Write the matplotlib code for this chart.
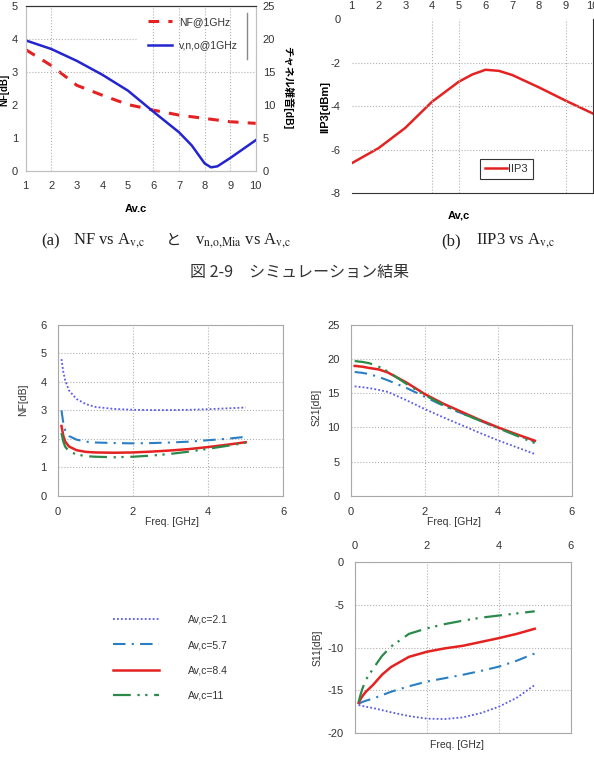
import matplotlib
matplotlib.use('Agg')
import matplotlib.pyplot as plt

plt.rcParams['font.family'] = ['Liberation Sans', 'Noto Sans CJK JP', 'DejaVu Sans']
plt.rcParams['mathtext.fontset'] = 'stix'
plt.rcParams['axes.unicode_minus'] = False

# (a) NF and channel noise vs Av,c
av = [1, 2, 3, 4, 5, 6, 7, 8, 9, 10]
nf_av = [3.68, 3.2, 2.6, 2.3, 2.02, 1.85, 1.7, 1.6, 1.5, 1.45]
av_v = [1, 2, 3, 4, 5, 6, 7, 7.5, 8, 8.25, 8.5, 9, 10]
vno_av = [19.8, 18.5, 16.7, 14.6, 12.2, 9.0, 5.9, 3.9, 1.2, 0.6, 0.75, 2.0, 4.7]

# (b) IIP3 vs Av,c
av_i = [1, 2, 3, 4, 5, 5.5, 6, 6.5, 7, 8, 9, 10]
iip3 = [-6.62, -5.93, -5.0, -3.8, -2.88, -2.55, -2.33, -2.38, -2.57, -3.14, -3.75, -4.33]

# frequency sweeps for Av,c = 2.1 / 5.7 / 8.4 / 11
freq = [0.1, 0.15, 0.2, 0.3, 0.5, 0.75, 1, 1.5, 2, 2.5, 3, 3.5, 4, 4.5, 5]
labels = ['Av,c=2.1', 'Av,c=5.7', 'Av,c=8.4', 'Av,c=11']
nf = [
    [4.8, 4.35, 4.05, 3.7, 3.4, 3.22, 3.12, 3.05, 3.02, 3.01, 3.01, 3.02, 3.04, 3.07, 3.1],
    [3.0, 2.55, 2.3, 2.1, 1.97, 1.9, 1.87, 1.85, 1.84, 1.85, 1.87, 1.9, 1.95, 2.0, 2.07],
    [2.45, 2.1, 1.9, 1.73, 1.6, 1.54, 1.52, 1.51, 1.52, 1.55, 1.59, 1.64, 1.71, 1.79, 1.88],
    [2.2, 1.9, 1.72, 1.56, 1.45, 1.39, 1.37, 1.35, 1.37, 1.41, 1.47, 1.55, 1.65, 1.75, 1.86],
]
s21 = [
    [16.0, 16.0, 15.95, 15.9, 15.75, 15.5, 15.2, 14.0, 12.7, 11.5, 10.35, 9.2, 8.1, 7.1, 6.1],
    [18.1, 18.1, 18.05, 18.0, 17.8, 17.4, 16.9, 15.8, 14.5, 13.2, 12.1, 11.0, 9.9, 8.9, 7.9],
    [19.0, 19.0, 18.95, 18.9, 18.7, 18.5, 18.05, 16.6, 14.9, 13.5, 12.3, 11.1, 10.0, 9.0, 8.05],
    [19.7, 19.7, 19.65, 19.6, 19.4, 18.9, 18.2, 16.4, 14.75, 13.3, 12.1, 11.0, 9.9, 8.8, 7.7],
]
s11 = [
    [-16.75, -16.8, -16.85, -16.95, -17.1, -17.35, -17.6, -18.05, -18.35, -18.4, -18.2, -17.7, -16.95, -15.9, -14.4],
    [-16.6, -16.5, -16.4, -16.25, -16.0, -15.6, -15.2, -14.55, -14.0, -13.6, -13.2, -12.75, -12.25, -11.55, -10.7],
    [-16.5, -16.1, -15.75, -15.2, -14.4, -13.2, -12.3, -11.1, -10.5, -10.1, -9.8, -9.35, -8.9, -8.4, -7.8],
    [-16.4, -15.6, -14.9, -13.8, -12.5, -11.0, -9.9, -8.4, -7.75, -7.25, -6.85, -6.5, -6.25, -6.0, -5.75],
]

styles = [
    dict(color='#5a5ae6', lw=1.3, ls=(0, (1, 1.2))),
    dict(color='#2a7fc4', lw=1.5, ls=(0, (6, 3, 1, 3))),
    dict(color='#e42222', lw=1.8, ls='-'),
    dict(color='#2b8a4a', lw=1.6, ls=(0, (8, 3, 1, 2.5, 1, 3))),
]

W, H = 594, 771
fig = plt.figure(figsize=(W / 100, H / 100), dpi=100)


def box(l, r, t, b):
    return [l / W, 1 - b / H, (r - l) / W, (b - t) / H]


def fpos(x, y):
    return x / W, 1 - y / H


grid_kw = dict(color='#b0b0b0', lw=0.8, ls=':')
txt = '#333333'
fs = 8

# ---- (a) ----
ax = fig.add_axes(box(25.7, 255.7, 6, 171.3))
ax.plot(av, nf_av, color='#e42222', lw=2.2, ls=(0, (3.5, 3)), label='NF@1GHz')
ax2 = ax.twinx()
ax2.plot(av_v, vno_av, color='#2424d2', lw=1.8, label='v,n,o@1GHz')
ax.set_xlim(1, 10)
ax.set_ylim(0, 5)
ax2.set_ylim(0, 25)
ax.set_xticks(range(1, 11))
ax.set_yticks(range(0, 6))
ax2.set_yticks(range(0, 26, 5))
for x in [2, 6, 7, 8, 9]:
    ax.axvline(x, **grid_kw)
ax.axhline(3, **grid_kw)
ax.axhline(4, xmax=0.48, **grid_kw)
ax.axvline(9.66, ymin=0.68, ymax=0.96, color='#888888', lw=1)
for a in (ax, ax2):
    for s in a.spines.values():
        s.set_color('#c0c0c0')
    a.spines['top'].set_color('#333333')
    a.tick_params(length=0, labelsize=fs, labelcolor=txt)
ax.tick_params(axis='x', pad=7)
ax.tick_params(axis='y', pad=5.5)
ax2.tick_params(axis='y', pad=5)
ax.set_xlabel('Av.c', fontsize=fs, fontweight='bold', ha='center', va='center')
ax.xaxis.set_label_coords(*fpos(135.7, 209), transform=fig.transFigure)
ax.set_ylabel('NF[dB]', fontsize=7, fontweight='bold', ha='center', va='center')
ax.yaxis.set_label_coords(*fpos(4.5, 90), transform=fig.transFigure)
ax2.set_ylabel('チャネル雑音[dB]', fontsize=7.5, fontweight='bold', rotation=-90,
               ha='center', va='center')
ax2.yaxis.set_label_coords(*fpos(288, 88), transform=fig.transFigure)
h1, l1 = ax.get_legend_handles_labels()
h2, l2 = ax2.get_legend_handles_labels()
leg = ax2.legend(h1 + h2, l1 + l2, loc='upper left', bbox_to_anchor=(0.53, 0.935),
                 frameon=False, borderpad=0, borderaxespad=0, handlelength=2.3,
                 handletextpad=0.7, labelspacing=1.3, fontsize=7.5)
for t in leg.get_texts():
    t.set_color(txt)

# ---- (b) ----
axb = fig.add_axes(box(351.7, 592.5, 19, 193.3))
axb.plot(av_i, iip3, color='#e42222', lw=1.8, label='IIP3')
axb.set_xlim(1, 10)
axb.set_ylim(-8, 0)
axb.set_xticks(range(1, 11))
axb.set_yticks(range(-8, 1, 2))
axb.xaxis.tick_top()
for x in [4, 5, 9]:
    axb.axvline(x, **grid_kw)
for y in [-2, -4, -6]:
    axb.axhline(y, **grid_kw)
axb.spines['left'].set_visible(False)
axb.spines['top'].set_visible(False)
axb.spines['bottom'].set_color('#333333')
axb.spines['right'].set_color('#333333')
axb.tick_params(length=0, labelsize=fs, labelcolor=txt)
axb.tick_params(axis='x', pad=6)
axb.tick_params(axis='y', pad=8)
axb.set_xlabel('Av,c', fontsize=fs, fontweight='bold', ha='center', va='center')
axb.xaxis.set_label_coords(*fpos(459, 215), transform=fig.transFigure)
axb.set_ylabel('IIP3[dBm]', fontsize=fs, fontweight='bold', ha='center', va='center')
axb.yaxis.set_label_coords(*fpos(325, 107), transform=fig.transFigure)
lb = axb.legend(loc='lower left', bbox_to_anchor=(0.531, 0.08), borderaxespad=0,
                fancybox=False, edgecolor='#333333', framealpha=1, fontsize=8,
                handlelength=2.0, handletextpad=0.1, borderpad=0.45)
lb.get_frame().set_linewidth(0.8)
for t in lb.get_texts():
    t.set_color(txt)

# ---- captions ----
cap = dict(fontsize=12, color='#222222', va='center', family='Liberation Serif')
fig.text(*fpos(41.7, 241), '(a)', **cap)
fig.text(*fpos(73, 241), r'NF vs A$_{\mathrm{v{,}c}}$', **cap)
fig.text(*fpos(166, 240), 'と', fontsize=11, color='#222222', va='center',
         family=['Noto Sans CJK JP'])
fig.text(*fpos(195, 241), r'v$_{\mathrm{n{,}o{,}Mia}}$ vs A$_{\mathrm{v{,}c}}$', **cap)
fig.text(*fpos(441, 241), '(b)', **cap)
fig.text(*fpos(476.5, 241), r'IIP3 vs A$_{\mathrm{v{,}c}}$', **cap)
fig.text(*fpos(300, 272), '図 2-9　シミュレーション結果', fontsize=11.5, color='#333333',
         ha='center', va='center', family=['Noto Sans CJK JP'])


# ---- bottom charts ----
def freq_axes(rect, ylim, yticks, ylabel, ylab_xy, xlab_xy, top=False):
    a = fig.add_axes(rect)
    a.set_xlim(0, 6)
    a.set_ylim(*ylim)
    a.set_xticks([0, 2, 4, 6])
    a.set_yticks(yticks)
    if top:
        a.xaxis.tick_top()
    a.grid(True, **grid_kw)
    for s in a.spines.values():
        s.set_color('#a8a8a8')
    a.tick_params(length=0, labelsize=fs, labelcolor=txt, pad=8)
    a.set_ylabel(ylabel, fontsize=7.5, color=txt, ha='center', va='center')
    a.yaxis.set_label_coords(*fpos(*ylab_xy), transform=fig.transFigure)
    a.set_xlabel('Freq. [GHz]', fontsize=7.5, color=txt, ha='center', va='center')
    a.xaxis.set_label_coords(*fpos(*xlab_xy), transform=fig.transFigure)
    return a


axc = freq_axes(box(57.7, 283.3, 325, 495.7), (0, 6), range(0, 7), 'NF[dB]',
                (23, 400), (172, 522))
axd = freq_axes(box(351, 571.7, 325, 495.7), (0, 25), range(0, 26, 5), 'S21[dB]',
                (317, 407), (454, 522))
axe = freq_axes(box(355, 570.7, 562.3, 732.7), (-20, 0), range(-20, 1, 5), 'S11[dB]',
                (318, 648), (457, 745), top=True)

for i in range(4):
    axc.plot(freq, nf[i], label=labels[i], **styles[i])
    axd.plot(freq, s21[i], **styles[i])
    axe.plot(freq, s11[i], **styles[i])

hc, lc = axc.get_legend_handles_labels()
lg = fig.legend(hc, lc, loc='upper left', bbox_to_anchor=fpos(112.7, 615),
                frameon=False, borderpad=0, borderaxespad=0, handlelength=4.4,
                handletextpad=2.8, labelspacing=1.45, fontsize=7.5)
for t in lg.get_texts():
    t.set_color(txt)

fig.savefig('out.png', dpi=100)
